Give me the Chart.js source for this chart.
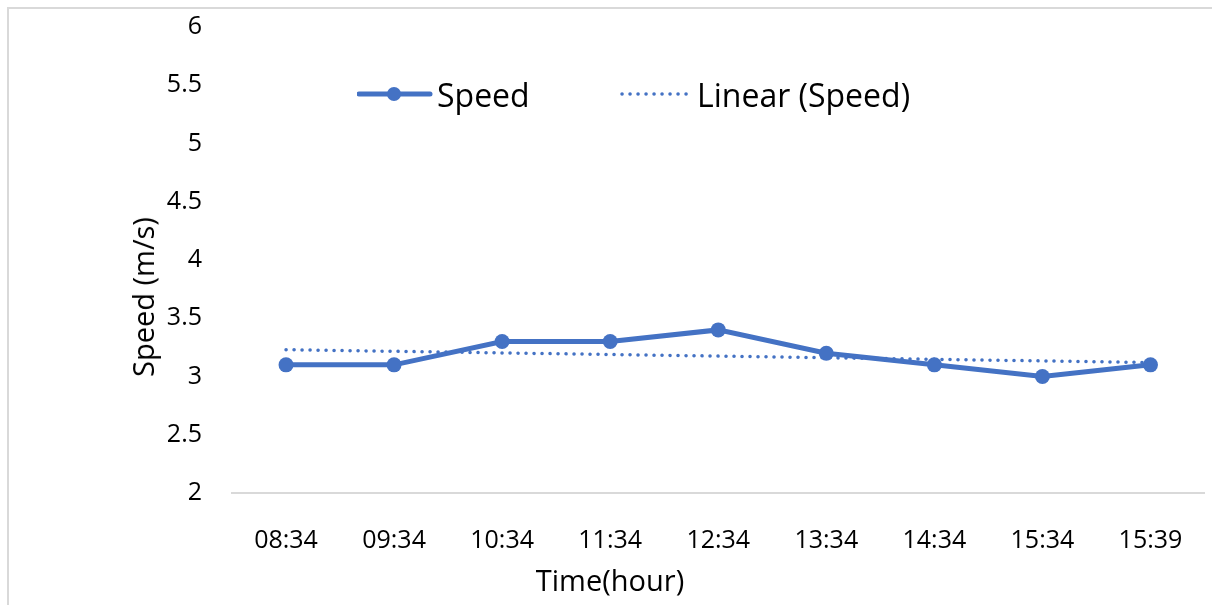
<!DOCTYPE html>
<html>
<head>
<meta charset="utf-8">
<script src="https://cdn.jsdelivr.net/npm/chart.js@4.4.1/dist/chart.umd.min.js"></script>
<style>
  html, body { margin: 0; padding: 0; background: #fff; }
  body { width: 1212px; height: 605px; position: relative; overflow: hidden; font-family: "Open Sans", sans-serif; }
  #frame { position: absolute; left: 7px; top: 7px; width: 1220px; height: 620px; border-left: 2px solid #d9d9d9; border-top: 2px solid #d9d9d9; box-sizing: border-box; }
  #wrap { position: absolute; left: 0; top: 0; width: 1212px; height: 605px; }
  .leg { position: absolute; display: flex; align-items: center; height: 40px; font-size: 32px; color: #000; white-space: nowrap; }
  .atitle { position: absolute; font-size: 29px; color: #000; white-space: nowrap; line-height: 34px; height: 34px; }
</style>
</head>
<body>
<div id="frame"></div>
<div id="wrap"><canvas id="c" width="1212" height="605"></canvas></div>
<div class="leg" style="left:357px; top:74px;">
  <svg width="76" height="20" style="margin-right:4px"><line x1="2" y1="10" x2="73" y2="10" stroke="#4472C4" stroke-width="5" stroke-linecap="round"/><circle cx="37" cy="10" r="7" fill="#4472C4"/></svg>
  <span>Speed</span>
</div>
<div class="leg" style="left:620px; top:74px;">
  <svg width="72" height="20" style="margin-right:5px"><line x1="2" y1="10" x2="70" y2="10" stroke="#4472C4" stroke-width="3.5" stroke-linecap="round" stroke-dasharray="0.1 7.9"/></svg>
  <span>Linear (Speed)</span>
</div>
<div class="atitle" style="left:610px; top:563px; transform: translateX(-50%);">Time(hour)</div>
<div class="atitle" style="left:143px; top:297px; transform: translate(-50%, -50%) rotate(-90deg);">Speed (m/s)</div>
<script>
const categories = ["08:34", "09:34", "10:34", "11:34", "12:34", "13:34", "14:34", "15:34", "15:39"];
const speedValues = [3.1, 3.1, 3.3, 3.3, 3.4, 3.2, 3.1, 3.0, 3.1];
// Trend line: start and end values only
const trendValues = [3.23, null, null, null, null, null, null, null, 3.12];
const yTickValues = [2, 2.5, 3, 3.5, 4, 4.5, 5, 5.5, 6];

const blue = "#4472C4";
const ctx = document.getElementById("c").getContext("2d");
new Chart(ctx, {
  type: "line",
  data: {
    labels: categories,
    datasets: [
      {
        label: "Linear (Speed)",
        data: trendValues,
        borderColor: blue,
        borderWidth: 3.5,
        borderDash: [0.1, 7.9],
        borderCapStyle: "round",
        pointRadius: 0,
        spanGaps: true,
        fill: false,
        order: 2
      },
      {
        label: "Speed",
        data: speedValues,
        borderColor: blue,
        backgroundColor: blue,
        borderWidth: 5,
        pointRadius: 7.5,
        pointBackgroundColor: blue,
        pointBorderColor: blue,
        pointBorderWidth: 0,
        tension: 0,
        fill: false,
        order: 1
      }
    ]
  },
  options: {
    responsive: false,
    animation: false,
    layout: { padding: { left: 0, top: 27, right: 7, bottom: 0 } },
    plugins: { legend: { display: false }, tooltip: { enabled: false } },
    scales: {
      x: {
        offset: true,
        grid: { display: false, drawTicks: false },
        border: { display: true, color: "#d9d9d9", width: 2 },
        ticks: { color: "#000", font: { family: "Open Sans", size: 25 }, padding: 33, maxRotation: 0, autoSkip: false },
        afterFit: (s) => { s.height = 112; s.paddingLeft = 0; s.paddingRight = 0; }
      },
      y: {
        min: 2,
        max: 6,
        afterBuildTicks: (s) => { s.ticks = yTickValues.map(v => ({ value: v })); },
        grid: { display: false, drawTicks: false },
        border: { display: false },
        ticks: { color: "#000", font: { family: "Open Sans", size: 25 }, padding: 30, callback: (v) => String(v) },
        afterFit: (s) => { s.width = 232; s.paddingTop = 0; s.paddingBottom = 0; }
      }
    }
  }
});
</script>
</body>
</html>
